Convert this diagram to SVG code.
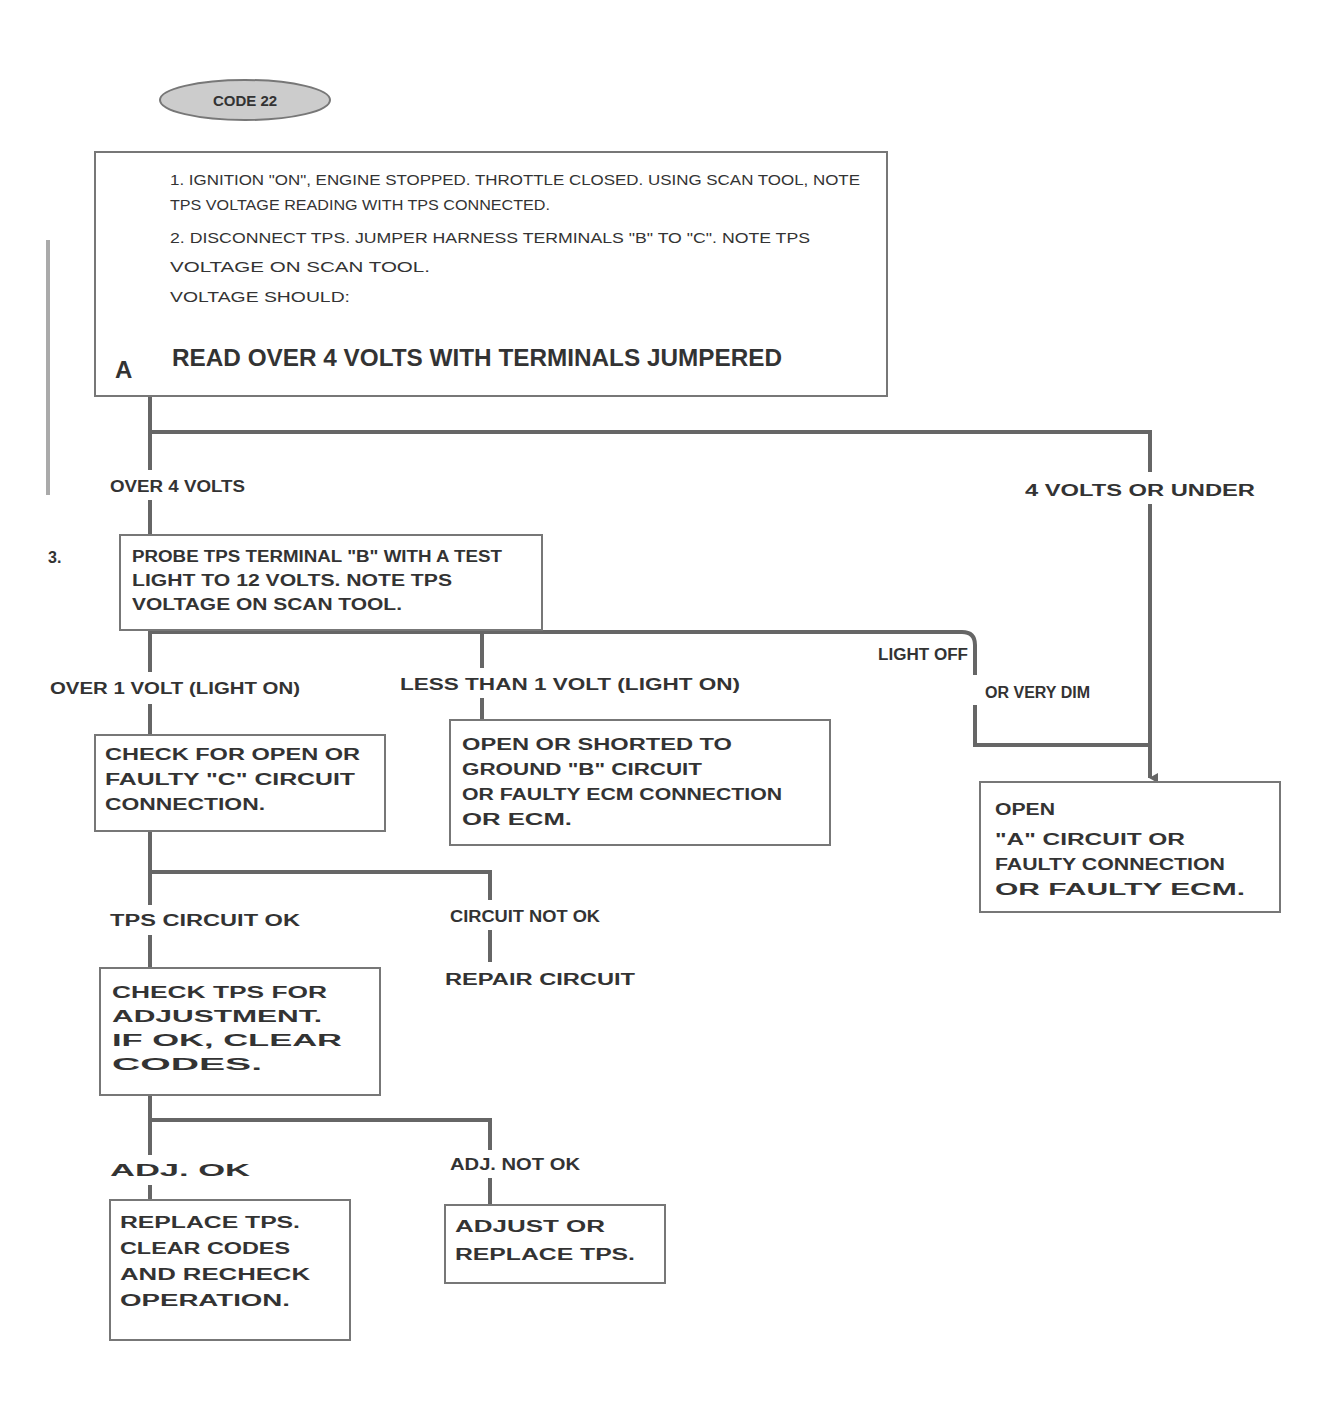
<svg xmlns="http://www.w3.org/2000/svg" width="1320" height="1414" viewBox="0 0 1320 1414">
<style>
text{font-family:"Liberation Sans",Arial,sans-serif;fill:#333;font-size:15px}
.b{font-weight:bold}
.t{font-weight:bold;font-size:16px}
.big{font-weight:bold;font-size:24px}
.box{fill:none;stroke:#777;stroke-width:2}
.ln{fill:none;stroke:#666;stroke-width:4}
</style>
<defs>
<marker id="ah" markerWidth="10" markerHeight="10" refX="5" refY="8" orient="auto" markerUnits="userSpaceOnUse">
<path d="M0,0 L10,0 L5,9 z" fill="#666"/>
</marker>
</defs>
<rect width="1320" height="1414" fill="#fff"/>

<g id="connectors">
<line x1="48" y1="240" x2="48" y2="495" stroke="#aaa" stroke-width="4"/>
<path class="ln" d="M150,396 V470"/>
<path class="ln" d="M150,500 V535"/>
<path class="ln" d="M150,432 H1150 V472"/>
<path class="ln" d="M1150,504 V778" marker-end="url(#ah)"/>
<path class="ln" d="M150,630 V672"/>
<path class="ln" d="M150,704 V735"/>
<path class="ln" d="M150,632 H962 Q975,632 975,645 V675"/>
<path class="ln" d="M975,705 V745 H1150"/>
<path class="ln" d="M482,632 V668"/>
<path class="ln" d="M482,698 V720"/>
<path class="ln" d="M150,831 V905"/>
<path class="ln" d="M150,872 H490 V900"/>
<path class="ln" d="M150,935 V968"/>
<path class="ln" d="M490,930 V962"/>
<path class="ln" d="M150,1095 V1155"/>
<path class="ln" d="M150,1120 H490 V1150"/>
<path class="ln" d="M150,1185 V1200"/>
<path class="ln" d="M490,1178 V1205"/>
</g>

<g id="logo">
<ellipse cx="245" cy="100" rx="85" ry="20" fill="#ccc" stroke="#777" stroke-width="2"/>
<text x="245" y="106" text-anchor="middle" class="b">CODE 22</text>
</g>

<g id="step1">
<rect class="box" x="95" y="152" width="792" height="244"/>
<text x="170" y="185" textLength="690" lengthAdjust="spacingAndGlyphs">1. IGNITION "ON", ENGINE STOPPED. THROTTLE CLOSED.   USING SCAN TOOL, NOTE</text>
<text x="170" y="210" textLength="380" lengthAdjust="spacingAndGlyphs">TPS VOLTAGE READING WITH TPS CONNECTED.</text>
<text x="170" y="243" textLength="640" lengthAdjust="spacingAndGlyphs">2. DISCONNECT TPS. JUMPER HARNESS TERMINALS "B" TO "C".   NOTE TPS</text>
<text x="170" y="272" textLength="260" lengthAdjust="spacingAndGlyphs">VOLTAGE ON SCAN TOOL.</text>
<text x="170" y="302" textLength="180" lengthAdjust="spacingAndGlyphs">VOLTAGE SHOULD:</text>
<text x="115" y="378" class="big">A</text>
<text x="172" y="366" class="big" textLength="610" lengthAdjust="spacingAndGlyphs">READ OVER 4 VOLTS WITH TERMINALS JUMPERED</text>
</g>

<g id="side">
<text x="110" y="492" class="t" textLength="135" lengthAdjust="spacingAndGlyphs">OVER 4 VOLTS</text>
<text x="1025" y="496" class="t" font-size="17" textLength="230" lengthAdjust="spacingAndGlyphs">4 VOLTS OR UNDER</text>
</g>

<g id="step2">
<rect class="box" x="120" y="535" width="422" height="95"/>
<text x="48" y="563" class="t">3.</text>
<text x="132" y="562" class="t" textLength="370" lengthAdjust="spacingAndGlyphs">PROBE TPS TERMINAL "B" WITH A TEST</text>
<text x="132" y="586" class="t" textLength="320" lengthAdjust="spacingAndGlyphs">LIGHT TO 12 VOLTS. NOTE TPS</text>
<text x="132" y="610" class="t" textLength="270" lengthAdjust="spacingAndGlyphs">VOLTAGE ON SCAN TOOL.</text>
</g>

<g id="labels2">
<text x="50" y="694" class="t" textLength="250" lengthAdjust="spacingAndGlyphs">OVER 1 VOLT (LIGHT ON)</text>
<text x="400" y="690" class="t" textLength="340" lengthAdjust="spacingAndGlyphs">LESS THAN 1 VOLT (LIGHT ON)</text>
<text x="878" y="660" class="t" textLength="90" lengthAdjust="spacingAndGlyphs">LIGHT OFF</text>
<text x="985" y="698" class="t" textLength="105" lengthAdjust="spacingAndGlyphs">OR VERY DIM</text>
</g>

<g id="box3">
<rect class="box" x="95" y="735" width="290" height="96"/>
<text x="105" y="760" class="t" textLength="255" lengthAdjust="spacingAndGlyphs">CHECK FOR OPEN OR</text>
<text x="105" y="785" class="t" textLength="250" lengthAdjust="spacingAndGlyphs">FAULTY "C" CIRCUIT</text>
<text x="105" y="810" class="t" textLength="160" lengthAdjust="spacingAndGlyphs">CONNECTION.</text>
</g>

<g id="box4">
<rect class="box" x="450" y="720" width="380" height="125"/>
<text x="462" y="750" class="t" textLength="270" lengthAdjust="spacingAndGlyphs">OPEN OR SHORTED TO</text>
<text x="462" y="775" class="t" textLength="240" lengthAdjust="spacingAndGlyphs">GROUND "B" CIRCUIT</text>
<text x="462" y="800" class="t" textLength="320" lengthAdjust="spacingAndGlyphs">OR FAULTY ECM CONNECTION</text>
<text x="462" y="825" class="t" textLength="110" lengthAdjust="spacingAndGlyphs">OR ECM.</text>
</g>

<g id="box5">
<rect class="box" x="980" y="782" width="300" height="130"/>
<text x="995" y="815" class="t" textLength="60" lengthAdjust="spacingAndGlyphs">OPEN</text>
<text x="995" y="845" class="t" textLength="190" lengthAdjust="spacingAndGlyphs">"A" CIRCUIT OR</text>
<text x="995" y="870" class="t" textLength="230" lengthAdjust="spacingAndGlyphs">FAULTY CONNECTION</text>
<text x="995" y="895" class="t" textLength="250" lengthAdjust="spacingAndGlyphs">OR FAULTY ECM.</text>
</g>

<g id="labels3">
<text x="110" y="926" class="t" textLength="190" lengthAdjust="spacingAndGlyphs">TPS CIRCUIT OK</text>
<text x="450" y="922" class="t" textLength="150" lengthAdjust="spacingAndGlyphs">CIRCUIT NOT OK</text>
<text x="445" y="985" class="t" textLength="190" lengthAdjust="spacingAndGlyphs">REPAIR CIRCUIT</text>
</g>

<g id="box6">
<rect class="box" x="100" y="968" width="280" height="127"/>
<text x="112" y="998" class="t" textLength="215" lengthAdjust="spacingAndGlyphs">CHECK TPS FOR</text>
<text x="112" y="1022" class="t" textLength="210" lengthAdjust="spacingAndGlyphs">ADJUSTMENT.</text>
<text x="112" y="1046" class="t" textLength="230" lengthAdjust="spacingAndGlyphs">IF OK, CLEAR</text>
<text x="112" y="1070" class="t" textLength="150" lengthAdjust="spacingAndGlyphs">CODES.</text>
</g>

<g id="labels4">
<text x="110" y="1176" class="t" textLength="140" lengthAdjust="spacingAndGlyphs">ADJ. OK</text>
<text x="450" y="1170" class="t" textLength="130" lengthAdjust="spacingAndGlyphs">ADJ. NOT OK</text>
</g>

<g id="box7">
<rect class="box" x="445" y="1205" width="220" height="78"/>
<text x="455" y="1232" class="t" textLength="150" lengthAdjust="spacingAndGlyphs">ADJUST OR</text>
<text x="455" y="1260" class="t" textLength="180" lengthAdjust="spacingAndGlyphs">REPLACE TPS.</text>
</g>

<g id="box8">
<rect class="box" x="110" y="1200" width="240" height="140"/>
<text x="120" y="1228" class="t" textLength="180" lengthAdjust="spacingAndGlyphs">REPLACE TPS.</text>
<text x="120" y="1254" class="t" textLength="170" lengthAdjust="spacingAndGlyphs">CLEAR CODES</text>
<text x="120" y="1280" class="t" textLength="190" lengthAdjust="spacingAndGlyphs">AND RECHECK</text>
<text x="120" y="1306" class="t" textLength="170" lengthAdjust="spacingAndGlyphs">OPERATION.</text>
</g>
</svg>
